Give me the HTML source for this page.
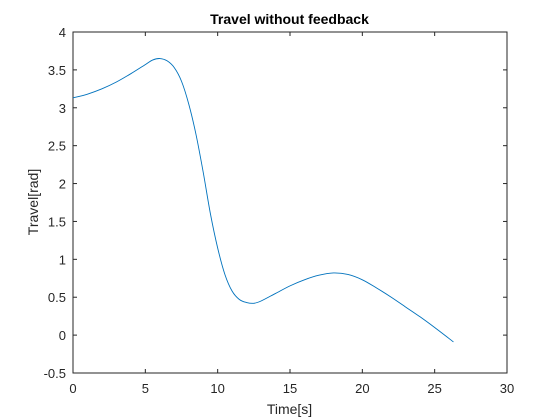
<!DOCTYPE html>
<html><head><meta charset="utf-8"><style>
body{margin:0;background:#fff}
svg{display:block;font-family:"Liberation Sans",Arial,sans-serif}
</style></head><body>
<svg id="chart" width="560" height="420">
<rect width="560" height="420" fill="#fff"/>
<rect x="73" y="32" width="434" height="341" fill="#fff" stroke="#262626" stroke-width="1"/>
<g id="ticks"></g>
<path id="line" fill="none" stroke="#0072bd" stroke-width="0.9"/>
<text x="289.5" y="24" text-anchor="middle" font-size="14" font-weight="bold" fill="#000">Travel without feedback</text>
<text x="289.5" y="414" text-anchor="middle" font-size="14" fill="#262626">Time[s]</text>
<text transform="translate(38,202) rotate(-90)" text-anchor="middle" font-size="14" fill="#262626">Travel[rad]</text>
</svg>
<script>
const times=[0,1,2,3,4,5,5.5,6,6.5,7,7.5,8,8.5,9,9.5,10,10.5,11,11.5,12,12.5,13,14,15,16,17,18,19,20,21,22,23,24,25,26.3];
const travel=[3.13,3.18,3.25,3.34,3.45,3.57,3.63,3.65,3.62,3.53,3.35,3.05,2.65,2.15,1.6,1.15,0.8,0.58,0.47,0.43,0.42,0.45,0.55,0.65,0.73,0.79,0.82,0.8,0.73,0.62,0.5,0.37,0.24,0.1,-0.09];
const xTicks=[0,5,10,15,20,25,30];
const yTicks=[-0.5,0,0.5,1,1.5,2,2.5,3,3.5,4];
const X0=73,X1=507,Y0=373,Y1=32;
function sx(v){return X0+(v-0)/(30-0)*(X1-X0);}
function sy(v){return Y0-(v+0.5)/(4.5)*(Y0-Y1);}
const NS="http://www.w3.org/2000/svg";
const g=document.getElementById('ticks');
function mk(tag,attrs){const e=document.createElementNS(NS,tag);for(const k in attrs)e.setAttribute(k,attrs[k]);g.appendChild(e);return e;}
xTicks.forEach(v=>{const x=sx(v);
 let l=mk('line',{x1:x,x2:x,y1:Y0,y2:Y0-4,stroke:'#262626'});
 
 
 let l2=mk('line',{x1:x,x2:x,y1:Y1,y2:Y1+4,stroke:'#262626'});
 
 
 let t=mk('text',{x:x,y:Y0+20,'text-anchor':'middle','font-size':13,fill:'#262626'});t.textContent=v;
 
 
});
yTicks.forEach(v=>{const y=sy(v);
 let l=mk('line',{x1:X0,x2:X0+4,y1:y,y2:y,stroke:'#262626'});
 
 
 let l2=mk('line',{x1:X1,x2:X1-4,y1:y,y2:y,stroke:'#262626'});
 
 
 let t=mk('text',{x:X0-7,y:y+5,'text-anchor':'end','font-size':13,fill:'#262626'});t.textContent=v;
 
 
});
const pts=times.map((t,i)=>[sx(t),sy(travel[i])]);
let d='M'+pts[0][0]+','+pts[0][1];
for(let i=0;i<pts.length-1;i++){
 const p0=pts[Math.max(0,i-1)],p1=pts[i],p2=pts[i+1],p3=pts[Math.min(pts.length-1,i+2)];
 const c1=[p1[0]+(p2[0]-p0[0])/6,p1[1]+(p2[1]-p0[1])/6];
 const c2=[p2[0]-(p3[0]-p1[0])/6,p2[1]-(p3[1]-p1[1])/6];
 d+=' C'+c1+' '+c2+' '+p2;
}
document.getElementById('line').setAttribute('d',d);
</script>
</body></html>
